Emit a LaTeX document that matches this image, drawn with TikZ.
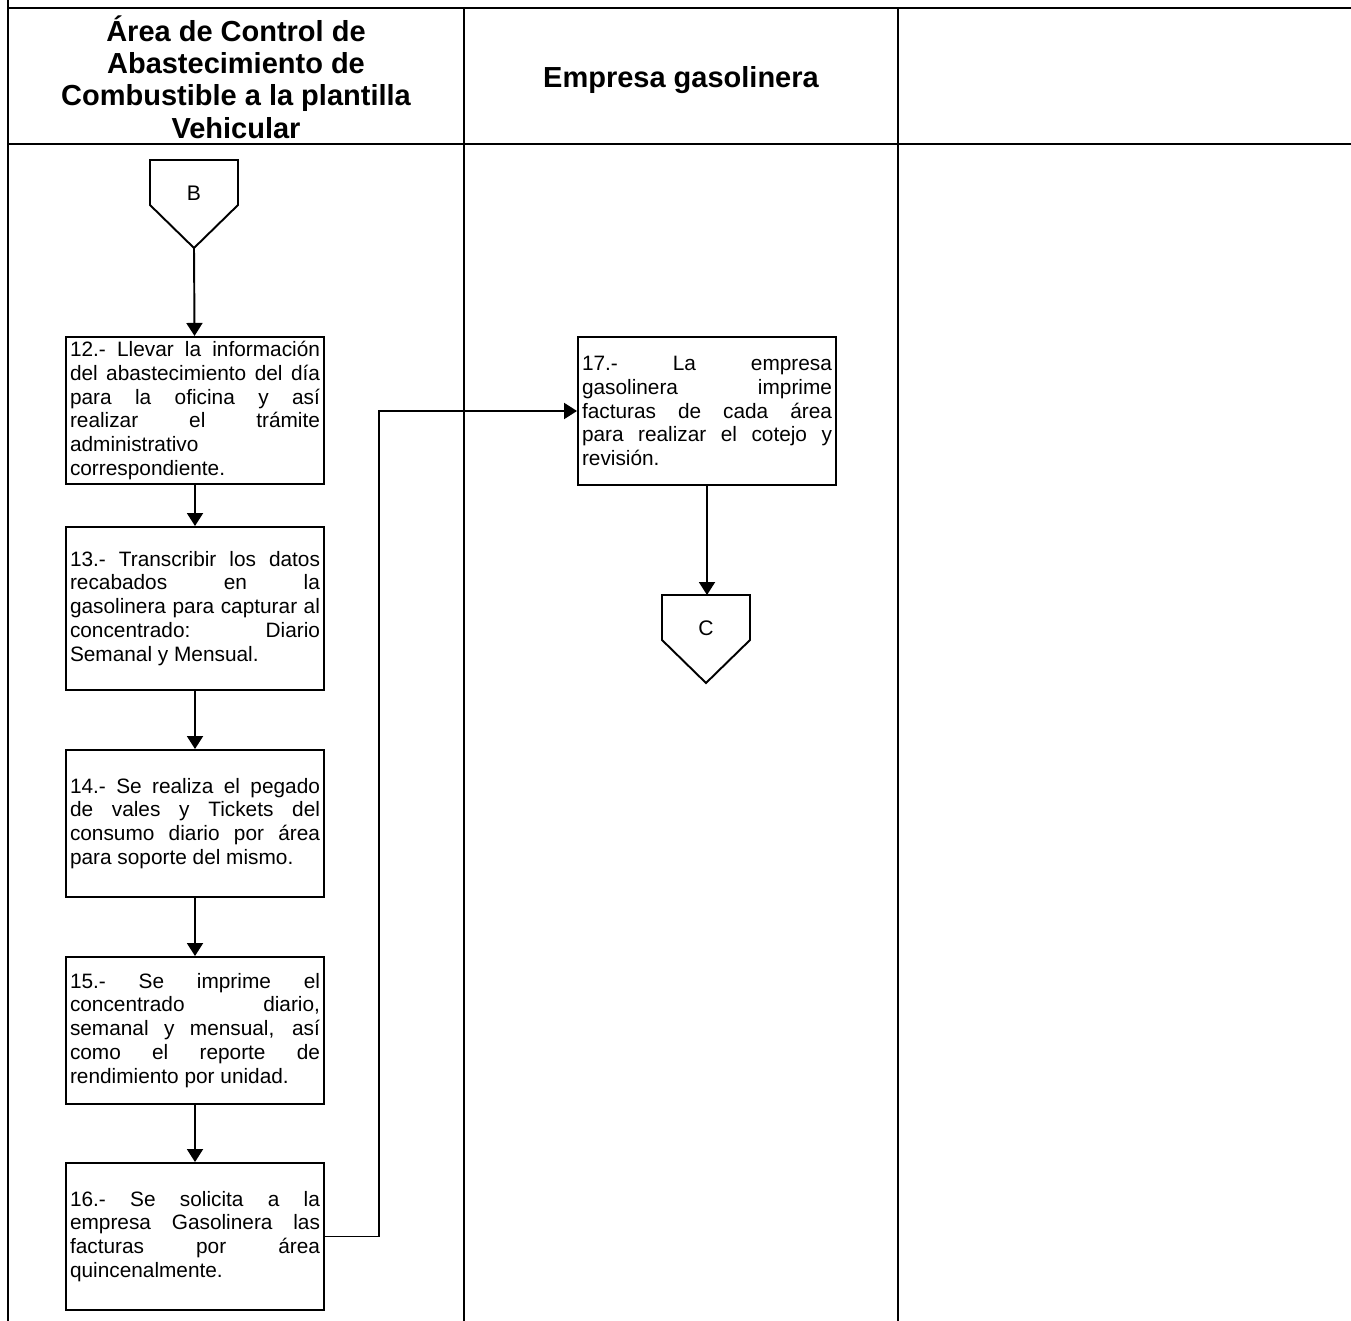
\documentclass[tikz,border=0pt]{standalone}
\usepackage{fontspec}
\setmainfont{Liberation Sans}
\usetikzlibrary{arrows.meta,positioning}

\begin{document}
\begin{tikzpicture}[
  tabla/.style={line width=1.4pt},
  paso/.style={draw, line width=1.1pt, text width=5.0cm, inner sep=0.08cm,
    minimum height=2.94cm, align=justify,
    font=\fontsize{11.85pt}{13.6pt}\selectfont},
  encabezado/.style={align=center, font=\fontsize{16.5pt}{18.4pt}\selectfont\bfseries},
  flecha/.style={line width=1.1pt, -{Triangle[length=2.6mm,width=3.2mm]}},
  conector/.style={draw, line width=1.1pt, line join=miter}]
  \useasboundingbox (0,0) rectangle (27.02,-26.42);

  % table
  \draw[tabla] (0.16,0.2) -- (0.16,-26.6);
  \draw[tabla] (0.16,-0.16) -- (27.2,-0.16);
  \draw[tabla] (0.16,-2.88) -- (27.2,-2.88);
  \draw[tabla] (9.28,-0.16) -- (9.28,-26.6);
  \draw[tabla] (17.96,-0.16) -- (17.96,-26.6);

  \node[encabezado] (col1) at (4.72,-1.54) {Área de Control de\\Abastecimiento de\\Combustible a la plantilla\\Vehicular};
  \node[encabezado] (col2) at (13.62,-1.6) {Empresa gasolinera};

  % off-page connector B
  \draw[conector] (3.0,-3.2) -- (4.76,-3.2) -- (4.76,-4.1) -- (3.88,-4.96) -- (3.0,-4.1) -- cycle;
  \node[font=\fontsize{12pt}{14pt}\selectfont] (B) at (3.88,-3.86) {B};
  \coordinate (Bp) at (3.88,-4.96);

  % steps
  \node[paso] (s12) at (3.9,-8.21) {12.- Llevar la información\linebreak del abastecimiento del día\linebreak para la oficina y así\linebreak realizar el trámite\linebreak administrativo\linebreak correspondiente.};
  \node[paso, minimum height=3.26cm] (s13) at (3.9,-12.17) {13.- Transcribir los datos\linebreak recabados en la\linebreak gasolinera para capturar al\linebreak concentrado: Diario\linebreak Semanal y Mensual.};
  \node[paso] (s14) at (3.9,-16.47) {14.- Se realiza el pegado\linebreak de vales y Tickets del\linebreak consumo diario por área\linebreak para soporte del mismo.};
  \node[paso] (s15) at (3.9,-20.61) {15.- Se imprime el\linebreak concentrado diario,\linebreak semanal y mensual, así\linebreak como el reporte de\linebreak rendimiento por unidad.};
  \node[paso] (s16) at (3.9,-24.73) {16.- Se solicita a la\linebreak empresa Gasolinera las\linebreak facturas por área\linebreak quincenalmente.};
  \node[paso, minimum height=2.96cm] (s17) at (14.14,-8.22) {17.- La empresa\linebreak gasolinera imprime\linebreak facturas de cada área\linebreak para realizar el cotejo y\linebreak revisión.};

  % off-page connector C
  \draw[conector] (13.24,-11.9) -- (15.0,-11.9) -- (15.0,-12.8) -- (14.12,-13.66) -- (13.24,-12.8) -- cycle;
  \node[font=\fontsize{12pt}{14pt}\selectfont] (C) at (14.12,-12.56) {C};
  \coordinate (Cp) at (14.14,-11.9);

  % arrows
  \draw[flecha] (Bp) -- (s12);
  \draw[flecha] (s12) -- (s13);
  \draw[flecha] (s13) -- (s14);
  \draw[flecha] (s14) -- (s15);
  \draw[flecha] (s15) -- (s16);
  \draw[flecha] (s16.east) -- ++(1.08,0) |- (s17.west);
  \draw[flecha] (s17) -- (Cp);
\end{tikzpicture}
\end{document}
